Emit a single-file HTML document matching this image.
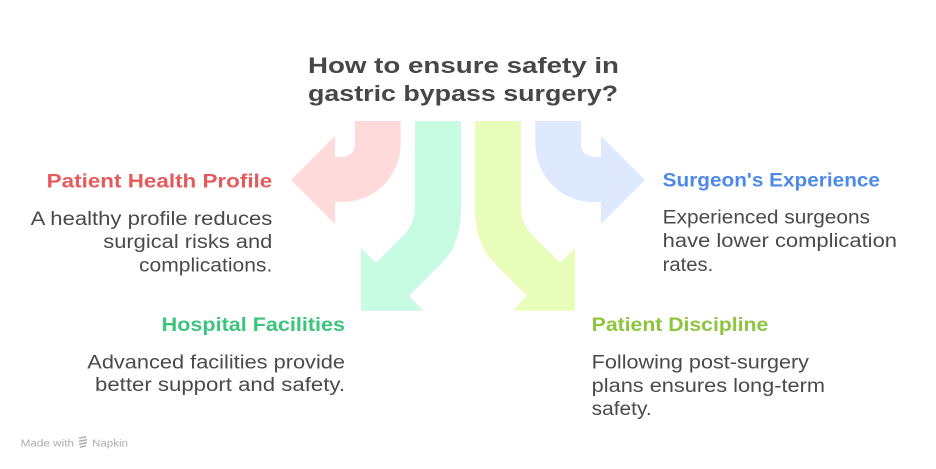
<!DOCTYPE html>
<html>
<head>
<meta charset="utf-8">
<style>
  html, body { margin: 0; padding: 0; background: #ffffff; }
  body { width: 936px; height: 469px; overflow: hidden; }
  svg { display: block; }
  text { font-family: "Liberation Sans", "DejaVu Sans", sans-serif; }
  .title { font-size: 22px; font-weight: bold; fill: #474747; }
  .head { font-size: 19px; font-weight: bold; }
  .body { font-size: 19px; fill: #4a4a4a; }
</style>
</head>
<body>
<svg width="936" height="469" viewBox="0 0 936 469" xmlns="http://www.w3.org/2000/svg">
  <rect width="936" height="469" fill="#ffffff"/>

  <!-- Title -->
  <text class="title" x="308" y="73" textLength="311" lengthAdjust="spacingAndGlyphs">How to ensure safety in</text>
  <text class="title" x="308" y="101" textLength="310" lengthAdjust="spacingAndGlyphs">gastric bypass surgery?</text>

  <!-- Red arrow (left) -->
  <path d="M355,121 H400.7 V143 C400.7,176 375,202 343,202 H335 V224 L291,180 L335,136 V156.7 H343 C350,156.7 355,151 355,144 Z" fill="#FFDADA"/>
  <!-- Green arrow (down-left) -->
  <path d="M415,121 H461 V207 Q461,243.7 443.3,261.4 L409,295.7 L423.3,310.7 H361 V248.3 L376,262.7 L403,235.7 Q415,223.7 415,207 Z" fill="#C8FCE2"/>
  <!-- Yellow arrow (down-right) -->
  <path d="M521,121 H475 V207 Q475,243.7 492.7,261.4 L527,295.7 L512.7,310.7 H575 V248.3 L560,262.7 L533,235.7 Q521,223.7 521,207 Z" fill="#E8FDBA"/>
  <!-- Blue arrow (right) -->
  <path d="M581,121 H535.3 V143 C535.3,176 561,202 593,202 H601 V224 L645,180 L601,136 V156.7 H593 C586,156.7 581,151 581,144 Z" fill="#DEE9FD"/>

  <!-- Patient Health Profile -->
  <text class="head" x="46.7" y="187.3" fill="#E55B5B" textLength="225.6" lengthAdjust="spacingAndGlyphs">Patient Health Profile</text>
  <text class="body" x="30.7" y="225" textLength="241.6" lengthAdjust="spacingAndGlyphs">A healthy profile reduces</text>
  <text class="body" x="103.3" y="248" textLength="169" lengthAdjust="spacingAndGlyphs">surgical risks and</text>
  <text class="body" x="139" y="271.7" textLength="133.3" lengthAdjust="spacingAndGlyphs">complications.</text>

  <!-- Surgeon's Experience -->
  <text class="head" x="662.7" y="186.7" fill="#4D89EA" textLength="217.3" lengthAdjust="spacingAndGlyphs">Surgeon's Experience</text>
  <text class="body" x="662.7" y="223.3" textLength="207.3" lengthAdjust="spacingAndGlyphs">Experienced surgeons</text>
  <text class="body" x="662.7" y="247" textLength="234.3" lengthAdjust="spacingAndGlyphs">have lower complication</text>
  <text class="body" x="662.7" y="271" textLength="50.6" lengthAdjust="spacingAndGlyphs">rates.</text>

  <!-- Hospital Facilities -->
  <text class="head" x="161.7" y="331" fill="#3CC47D" textLength="183.3" lengthAdjust="spacingAndGlyphs">Hospital Facilities</text>
  <text class="body" x="87.3" y="368.3" textLength="257.7" lengthAdjust="spacingAndGlyphs">Advanced facilities provide</text>
  <text class="body" x="95" y="391" textLength="250" lengthAdjust="spacingAndGlyphs">better support and safety.</text>

  <!-- Patient Discipline -->
  <text class="head" x="591.7" y="331" fill="#8DC53F" textLength="176.6" lengthAdjust="spacingAndGlyphs">Patient Discipline</text>
  <text class="body" x="591.7" y="368.3" textLength="217.3" lengthAdjust="spacingAndGlyphs">Following post-surgery</text>
  <text class="body" x="591.7" y="392" textLength="233.3" lengthAdjust="spacingAndGlyphs">plans ensures long-term</text>
  <text class="body" x="591.7" y="415" textLength="60" lengthAdjust="spacingAndGlyphs">safety.</text>

  <!-- Made with Napkin -->
  <text x="20.7" y="446.5" font-size="10" fill="#ababab" textLength="53.3" lengthAdjust="spacingAndGlyphs">Made with</text>
  <g fill="#ababab">
    <path d="M79,437.5 L86,436 L86,437.5 L79,439 Z"/>
    <path d="M79,440.5 L87,439 L87,440.5 L79,442 Z"/>
    <path d="M79,443.5 L87,442 L87,443.5 L79,445 Z"/>
    <path d="M80,446.5 L86,445 L86,446.5 L80,448 Z"/>
  </g>
  <text x="92" y="446.5" font-size="10" fill="#ababab" textLength="36" lengthAdjust="spacingAndGlyphs">Napkin</text>
</svg>
</body>
</html>
